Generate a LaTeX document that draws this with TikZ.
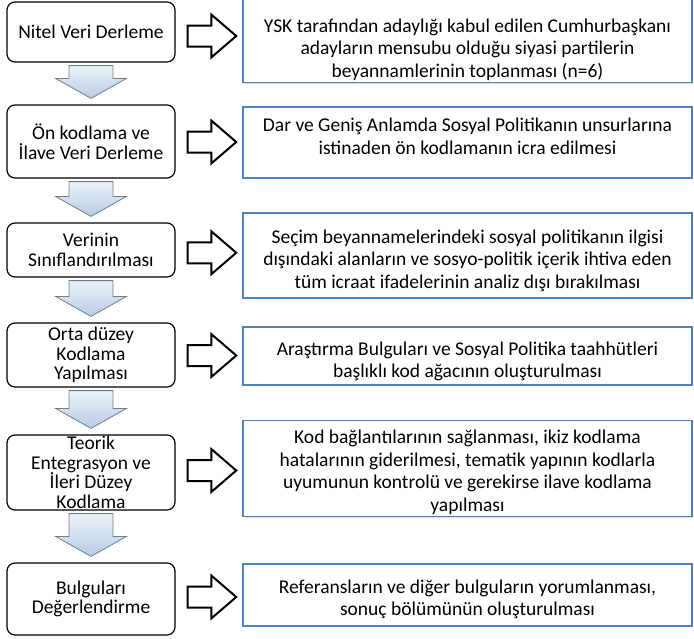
\documentclass[tikz,border=0pt]{standalone}
\usepackage{fontspec}
\setmainfont{Carlito}
\usetikzlibrary{positioning,calc}
\usetikzlibrary{shadows}

\definecolor{boxblue}{RGB}{79,129,189}
\definecolor{arrtop}{RGB}{236,242,249}
\definecolor{arrbot}{RGB}{184,204,228}
\definecolor{arredge}{RGB}{115,125,138}

% struts to move the note text up or down in its frame
\newcommand{\notestrut}[1]{\rule{0pt}{#1pt}}
\newcommand{\notedrop}[1]{\rule[-#1pt]{0pt}{#1pt}}

\tikzset{
  stepbox/.style={draw, fill=white, rounded corners=8pt, line width=1.2pt, align=center,
    minimum width=168pt, inner sep=1pt, font=\fontsize{19.5}{19.5}\selectfont},
  notebox/.style={draw=boxblue, fill=white, line width=1.5pt, align=center,
    minimum width=449pt, inner sep=2pt, font=\fontsize{19.5}{22.5}\selectfont,
    drop shadow={opacity=0.25, shadow xshift=1.2pt, shadow yshift=-1.2pt}},
  downarr/.style={draw=arredge, line width=0.8pt, top color=arrtop, bottom color=arrbot},
  rightarr/.style={draw, fill=white, line width=2pt, line join=miter},
}

\begin{document}
\begin{tikzpicture}[x=1pt, y=-1pt]
    \useasboundingbox (0,0) rectangle (694,638);

    % Left column: the steps
    \node[stepbox, minimum height=60pt] (nitel) at (91,32) {Nitel Veri Derleme};
    \node[stepbox, minimum height=73pt] (onkod) at (91,141.5) {Ön kodlama ve\\İlave Veri Derleme};
    \node[stepbox, minimum height=54pt] (sinif) at (91,250) {Verinin\\Sınıflandırılması};
    \node[stepbox, minimum height=64pt] (orta) at (91,355) {Orta düzey\\Kodlama\\Yapılması};
    \node[stepbox, minimum height=75pt] (teorik) at (91,472.5) {Teorik\\Entegrasyon ve\\İleri Düzey\\Kodlama};
    \node[stepbox, minimum height=72pt] (bulgu) at (91,599) {Bulguları\\Değerlendirme};

    % Right column: what is done in each step
    \node[notebox, minimum height=78pt] (ysk) at (467.5,40) {\notestrut{33}YSK tarafından adaylığı kabul edilen Cumhurbaşkanı\\adayların mensubu olduğu siyasi partilerin\\beyannamlerinin toplanması (n=6)};
    \node[notebox, minimum height=71pt] (dar) at (467.5,142.5) {Dar ve Geniş Anlamda Sosyal Politikanın unsurlarına\\istinaden ön kodlamanın icra edilmesi\notedrop{13}};
    \node[notebox, minimum height=85pt] (secim) at (467.5,255.5) {\notestrut{24}Seçim beyannamelerindeki sosyal politikanın ilgisi\\dışındaki alanların ve sosyo-politik içerik ihtiva eden\\tüm icraat ifadelerinin analiz dışı bırakılması};
    \node[notebox, minimum height=58pt] (arastirma) at (467.5,356) {\notestrut{24}Araştırma Bulguları ve Sosyal Politika taahhütleri\\başlıklı kod ağacının oluşturulması};
    \node[notebox, minimum height=95pt] (kod) at (467.5,468.5) {\notestrut{21}Kod bağlantılarının sağlanması, ikiz kodlama\\hatalarının giderilmesi, tematik yapının kodlarla\\uyumunun kontrolü ve gerekirse ilave kodlama\\yapılması};
    \node[notebox, minimum height=62pt] (referans) at (467.5,595) {\notestrut{22}Referansların ve diğer bulguların yorumlanması,\\sonuç bölümünün oluşturulması};

    % Down block arrows between the steps
    \foreach \a/\b in {nitel/onkod, onkod/sinif, sinif/orta, orta/teorik, teorik/bulgu} {
        \draw[downarr] let \p1=($(\a.south)+(0,3)$), \p2=($(\b.north)+(0,-6)$) in
            (\x1-22pt,\y1) -- (\x1+22pt,\y1) -- (\x1+22pt,\y2+20pt) -- (\x1+35.5pt,\y2+20pt)
            -- (\x1,\y2) -- (\x1-35.5pt,\y2+20pt) -- (\x1-22pt,\y2+20pt) -- cycle;
    }

    % Right block arrows from each step to its note
    \foreach \a/\b in {nitel/ysk, onkod/dar, sinif/secim, orta/arastirma, teorik/kod, bulgu/referans} {
        \draw[rightarr] let \p1=($(\a.east)+(12,0)$), \p2=($(\b.west)+(-6,0)$),
            \p3=($(\a.east)!0.5!(\b.west)$) in
            (\x1,\y3+10.5pt) -- (\x2-25pt,\y3+10.5pt) -- (\x2-25pt,\y3+21.5pt) -- (\x2,\y3)
            -- (\x2-25pt,\y3-21.5pt) -- (\x2-25pt,\y3-10.5pt) -- (\x1,\y3-10.5pt) -- cycle;
    }

\end{tikzpicture}
\end{document}
